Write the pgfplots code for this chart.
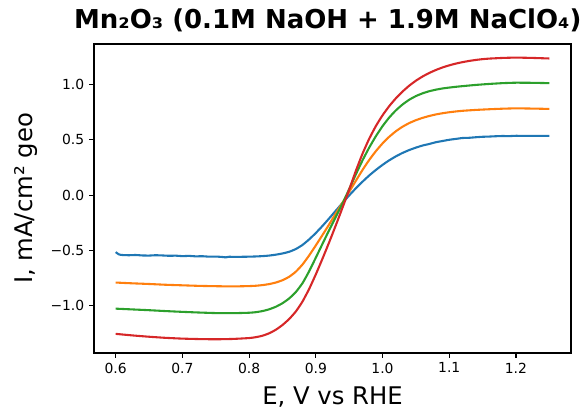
\documentclass[border=0pt]{standalone}
\usepackage{pgfplots}
\pgfplotsset{compat=1.18}
\usepackage{fontspec}
\setmainfont{DejaVu Sans}
\definecolor{c0}{HTML}{1F77B4}
\definecolor{c1}{HTML}{FF7F0E}
\definecolor{c2}{HTML}{2CA02C}
\definecolor{c3}{HTML}{D62728}
\begin{document}
\begin{tikzpicture}
\begin{axis}[
  scale only axis,
  width=343.44pt, height=222.48pt,
  xmin=0.5675, xmax=1.2825, ymin=-1.427, ymax=1.367,
  axis line style={line width=0.8pt},
  tick style={line width=0.8pt, black},
  major tick length=3.5pt,
  tick align=outside,
  xtick pos=bottom, ytick pos=left,
  xtick={0.6,0.7,0.8,0.9,1.0,1.1,1.2},
  xticklabels={0.6,0.7,0.8,0.9,1.0,1.1,1.2},
  ytick={-1,-0.5,0,0.5,1},
  yticklabels={−1.0,−0.5,0.0,0.5,1.0},
  ticklabel style={font=\fontsize{10}{12}\selectfont},
  xlabel={E, V vs RHE},
  ylabel={I, mA/cm² geo},
  label style={font=\fontsize{17.5}{20}\selectfont},
  xlabel style={at={(axis description cs:0.5,-0.1681)}, anchor=base},
  ylabel style={at={(axis description cs:-0.1299,0.5)}, anchor=base, rotate=0},
  title={Mn₂O₃ (0.1M NaOH + 1.9M NaClO₄)},
  title style={font=\bfseries\fontsize{18.7}{21}\selectfont, at={(axis description cs:0.49,1.0238)}, anchor=base},
  every axis plot/.append style={line width=1.5pt, line join=round, smooth, tension=0.3},
]
\addplot[c0] coordinates {
(0.600,-0.515) (0.605,-0.536) (0.610,-0.541) (0.620,-0.543) (0.630,-0.541) (0.640,-0.545)
(0.650,-0.546) (0.660,-0.543) (0.670,-0.545) (0.680,-0.548) (0.690,-0.547) (0.700,-0.551)
(0.710,-0.549) (0.720,-0.553) (0.730,-0.552) (0.740,-0.556) (0.750,-0.555) (0.760,-0.559)
(0.765,-0.562) (0.770,-0.557) (0.780,-0.558) (0.790,-0.557) (0.800,-0.556) (0.810,-0.554)
(0.820,-0.551) (0.830,-0.546) (0.840,-0.538) (0.850,-0.527) (0.860,-0.512) (0.870,-0.487)
(0.880,-0.450) (0.890,-0.400) (0.900,-0.342) (0.910,-0.278) (0.920,-0.210) (0.930,-0.140)
(0.940,-0.070) (0.950,-0.002) (0.960,0.062) (0.970,0.122) (0.980,0.178) (0.990,0.228)
(1.000,0.274) (1.010,0.315) (1.020,0.351) (1.030,0.382) (1.040,0.408) (1.050,0.430)
(1.060,0.449) (1.070,0.463) (1.080,0.479) (1.090,0.490) (1.100,0.501) (1.110,0.509)
(1.120,0.517) (1.130,0.519) (1.140,0.524) (1.150,0.528) (1.160,0.530) (1.170,0.533)
(1.180,0.535) (1.190,0.534) (1.200,0.537) (1.225,0.536) (1.250,0.536)
};
\addplot[c1] coordinates {
(0.600,-0.790) (0.625,-0.797) (0.650,-0.803) (0.675,-0.810) (0.700,-0.815) (0.725,-0.820)
(0.750,-0.823) (0.775,-0.825) (0.800,-0.822) (0.810,-0.819) (0.820,-0.813) (0.830,-0.804)
(0.840,-0.790) (0.850,-0.769) (0.860,-0.738) (0.870,-0.692) (0.880,-0.627) (0.890,-0.545)
(0.900,-0.454) (0.910,-0.360) (0.920,-0.264) (0.930,-0.165) (0.940,-0.068) (0.950,0.030)
(0.960,0.130) (0.970,0.228) (0.980,0.318) (0.990,0.398) (1.000,0.468) (1.010,0.528)
(1.020,0.578) (1.030,0.619) (1.040,0.652) (1.050,0.678) (1.060,0.699) (1.070,0.716)
(1.080,0.730) (1.090,0.741) (1.100,0.750) (1.110,0.757) (1.120,0.763) (1.140,0.771)
(1.160,0.777) (1.180,0.782) (1.200,0.785) (1.225,0.783) (1.250,0.780)
};
\addplot[c2] coordinates {
(0.600,-1.026) (0.625,-1.033) (0.650,-1.040) (0.675,-1.048) (0.700,-1.055) (0.725,-1.061)
(0.750,-1.066) (0.775,-1.067) (0.800,-1.063) (0.810,-1.058) (0.820,-1.048) (0.830,-1.032)
(0.840,-1.009) (0.850,-0.977) (0.860,-0.934) (0.870,-0.876) (0.880,-0.796) (0.890,-0.688)
(0.900,-0.565) (0.910,-0.440) (0.920,-0.316) (0.930,-0.196) (0.940,-0.075) (0.950,0.055)
(0.960,0.188) (0.970,0.315) (0.980,0.430) (0.990,0.533) (1.000,0.624) (1.010,0.702)
(1.020,0.767) (1.030,0.820) (1.040,0.863) (1.050,0.896) (1.060,0.921) (1.070,0.940)
(1.080,0.954) (1.090,0.965) (1.100,0.973) (1.110,0.980) (1.120,0.986) (1.140,0.997)
(1.160,1.006) (1.180,1.013) (1.200,1.017) (1.225,1.016) (1.250,1.013)
};
\addplot[c3] coordinates {
(0.600,-1.254) (0.625,-1.268) (0.650,-1.280) (0.675,-1.290) (0.700,-1.297) (0.725,-1.301)
(0.750,-1.303) (0.775,-1.300) (0.800,-1.292) (0.810,-1.284) (0.820,-1.271) (0.830,-1.249)
(0.840,-1.217) (0.850,-1.174) (0.860,-1.120) (0.870,-1.052) (0.880,-0.962) (0.890,-0.848)
(0.900,-0.716) (0.910,-0.574) (0.920,-0.426) (0.930,-0.272) (0.940,-0.113) (0.950,0.050)
(0.960,0.220) (0.970,0.375) (0.980,0.510) (0.990,0.625) (1.000,0.722) (1.010,0.805)
(1.020,0.876) (1.030,0.937) (1.040,0.990) (1.050,1.035) (1.060,1.073) (1.070,1.105)
(1.080,1.132) (1.090,1.155) (1.100,1.174) (1.110,1.190) (1.120,1.203) (1.130,1.214)
(1.140,1.223) (1.150,1.230) (1.160,1.235) (1.180,1.241) (1.200,1.244) (1.225,1.241)
(1.250,1.236)
};
\end{axis}
\pgfresetboundingbox
\useasboundingbox (-67.68pt,-43.2pt) rectangle (353.52pt,254.16pt);
\end{tikzpicture}
\end{document}
